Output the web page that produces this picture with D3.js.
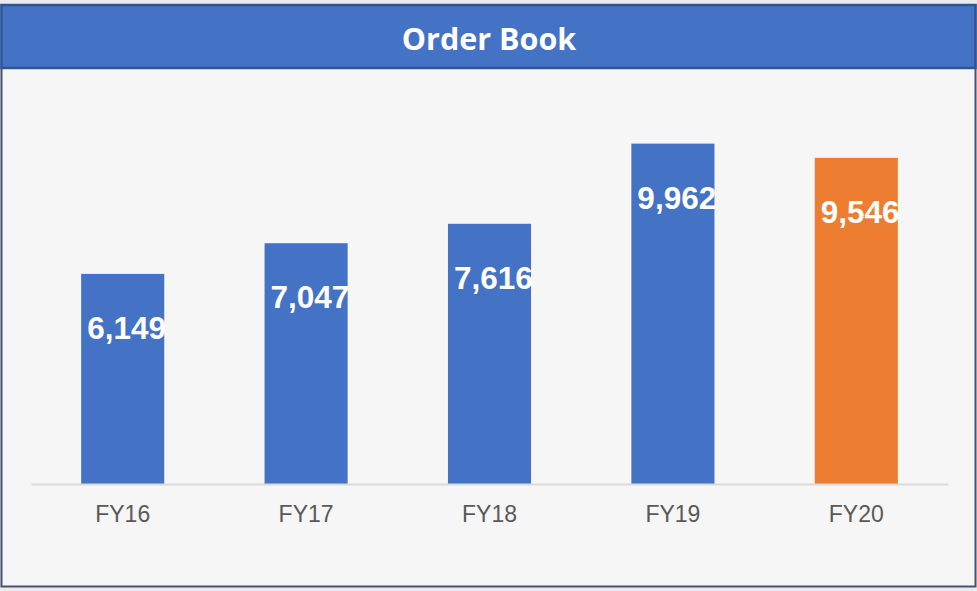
<!DOCTYPE html>
<html>
<head>
<meta charset="utf-8">
<script src="https://cdn.jsdelivr.net/npm/d3@7"></script>
<style>
  html, body { margin: 0; padding: 0; background: #ebebee; }
  svg { display: block; }
</style>
</head>
<body>
<script>
// Order Book por año fiscal
const years = ["FY16", "FY17", "FY18", "FY19", "FY20"];
const orderBook = [6149, 7047, 7616, 9962, 9546];
const barColors = ["#4472C4", "#4472C4", "#4472C4", "#4472C4", "#ED7D31"];
const yDomain = [0, 12000];

const width = 977, height = 591;

const svg = d3.select("body").append("svg")
  .attr("width", width).attr("height", height)
  .attr("viewBox", [0, 0, width, height]);

// Marco y fondo
svg.append("rect")
  .attr("x", 1.5).attr("y", 5).attr("width", 974).attr("height", 581.5)
  .attr("fill", "#f6f6f6").attr("stroke", "#44546A").attr("stroke-width", 2);

// Barra de título
svg.append("rect")
  .attr("x", 1.5).attr("y", 5).attr("width", 974).attr("height", 63)
  .attr("fill", "#4472C4").attr("stroke", "#2F5597").attr("stroke-width", 2.5);
svg.append("text")
  .attr("x", 489).attr("y", 49.5)
  .attr("text-anchor", "middle")
  .attr("font-family", "'Open Sans', sans-serif").attr("font-weight", "bold")
  .attr("font-size", 30.5).attr("fill", "#fff")
  .text("Order Book");

const x = d3.scaleBand().domain(years).range([31, 948])
  .paddingInner(0.547).paddingOuter(0.2735);
const y = d3.scaleLinear().domain(yDomain).range([484, 74]);

const g = svg.append("g");

// Barras
g.selectAll("rect.bar").data(orderBook).join("rect")
  .attr("class", "bar")
  .attr("x", (d, i) => x(years[i]))
  .attr("y", d => y(d))
  .attr("width", x.bandwidth())
  .attr("height", d => y(0) - y(d))
  .attr("fill", (d, i) => barColors[i]);

// Etiquetas de valor
g.selectAll("text.val").data(orderBook).join("text")
  .attr("class", "val")
  .attr("x", (d, i) => x(years[i]) + 6)
  .attr("y", d => y(d) + 65)
  .attr("font-family", "'Liberation Sans', Arial, sans-serif").attr("font-weight", "bold")
  .attr("font-size", 31.5).attr("fill", "#fff")
  .text(d => d3.format(",")(d));

// Eje X
const axis = svg.append("g").attr("transform", `translate(0,${y(0)})`)
  .call(d3.axisBottom(x).tickSize(0).tickPadding(38));
axis.select(".domain").attr("stroke", "#d9d9d9").attr("stroke-width", 2);
axis.selectAll("text")
  .attr("font-family", "'Liberation Sans', Arial, sans-serif")
  .attr("font-size", 23).attr("fill", "#595959")
  .attr("dy", 0);
</script>
</body>
</html>
